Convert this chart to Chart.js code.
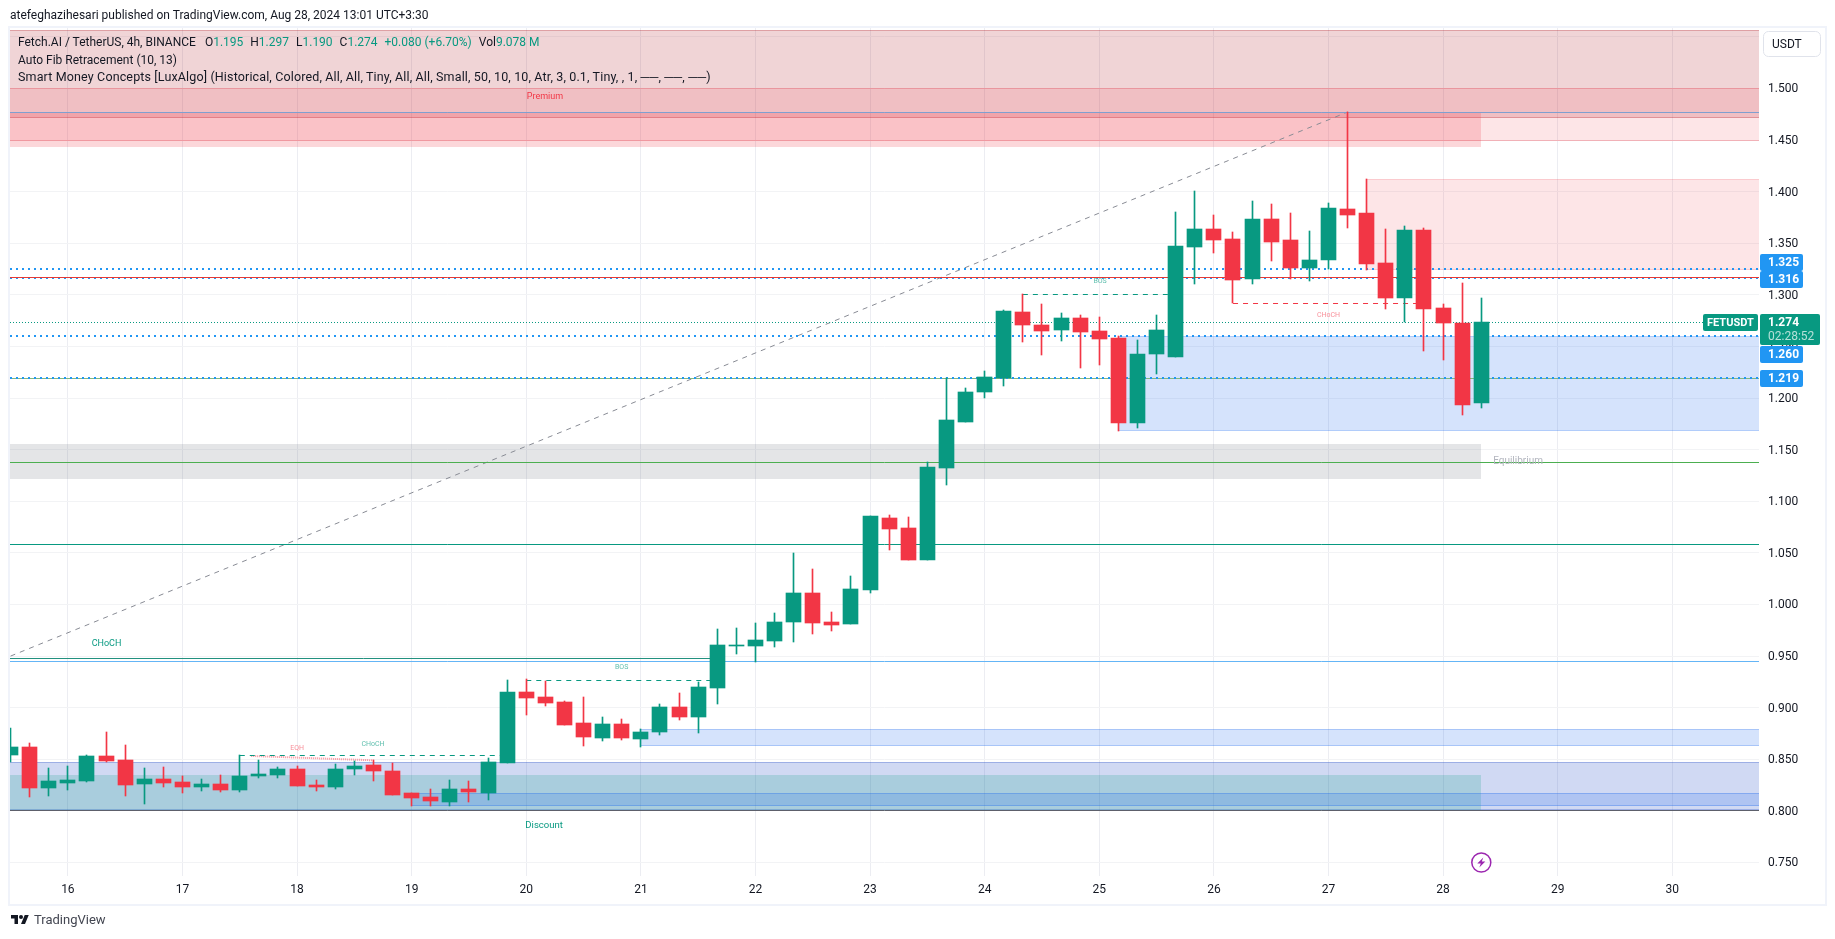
<!DOCTYPE html>
<html>
<head>
<meta charset="utf-8">
<title>FETUSDT</title>
<script src="https://cdn.jsdelivr.net/npm/chart.js@4"></script>
<style>
    html, body { margin: 0; padding: 0; background: #fff; }
    body { width: 1835px; height: 939px; position: relative; overflow: hidden; font-family: Roboto, sans-serif; color: #131722; }
    #frame { position: absolute; left: 8px; top: 26px; width: 1815px; height: 876px; border: 2px solid #f0f3fa; }
    canvas { position: absolute; left: 0; top: 0; }
    .txt { position: absolute; white-space: pre; font-size: 12px; line-height: 16px; }
    .up { color: #089981; }
    .gap { margin-left: 7px; }
    #logo { position: absolute; left: 10px; top: 913px; }
    #brand { left: 34px; top: 912px; font-size: 13px; color: #434651; }
</style>
</head>
<body>
<div id="frame"></div>
<canvas id="chart" width="1835" height="939"></canvas>
<div class="txt" style="left:10px;top:7px">atefeghazihesari published on TradingView.com, Aug 28, 2024 13:01 UTC+3:30</div>
<div class="txt" style="left:18px;top:34px">Fetch.AI / TetherUS, 4h, BINANCE<span class="gap" style="margin-left:9px">O</span><span class="up">1.195</span><span class="gap">H</span><span class="up">1.297</span><span class="gap">L</span><span class="up">1.190</span><span class="gap">C</span><span class="up">1.274</span><span class="gap up">+0.080 (+6.70%)</span><span class="gap">Vol</span><span class="up">9.078 M</span></div>
<div class="txt" style="left:18px;top:52px">Auto Fib Retracement (10, 13)</div>
<div class="txt" style="left:18px;top:69px;font-size:12.5px;letter-spacing:0.14px">Smart Money Concepts [LuxAlgo] (Historical, Colored, All, All, Tiny, All, All, Small, 50, 10, 10, Atr, 3, 0.1, Tiny, , 1, ──, ──, ──)</div>
<svg id="logo" width="20" height="14" viewBox="0 0 36 28"><path fill="#131722" d="M14 22H7V11H0V4h14v18zM28 22h-8l7.5-18h8L28 22z"/><circle cx="20" cy="8" r="4" fill="#131722"/></svg>
<div class="txt" id="brand">TradingView</div>

<script>
// 4h candles, first one opens on the 15th at 12:00
const firstBarDay = 15.5;
const barsPerDay = 6;
const opens = [0.8538, 0.8616, 0.8218, 0.8267, 0.8286, 0.8528, 0.849, 0.8257, 0.8306, 0.8276, 0.8228, 0.8257, 0.8199, 0.8335, 0.8344, 0.8402, 0.8247, 0.8228, 0.8402, 0.8441, 0.8383, 0.817, 0.8131, 0.8083, 0.8209, 0.817, 0.8461, 0.9149, 0.9107, 0.9058, 0.8855, 0.8709, 0.8845, 0.87, 0.8767, 0.901, 0.8913, 0.9194, 0.96, 0.96, 0.9649, 0.9833, 1.0114, 0.9833, 0.9814, 1.0143, 1.0834, 1.0743, 1.0434, 1.1322, 1.1767, 1.2058, 1.2194, 1.2833, 1.2707, 1.2659, 1.2775, 1.2649, 1.2581, 1.1758, 1.2426, 1.2397, 1.3464, 1.3638, 1.3541, 1.3154, 1.3735, 1.3532, 1.326, 1.3338, 1.3832, 1.3793, 1.3309, 1.297, 1.3628, 1.2873, 1.2727, 1.195];
const highs = [0.880, 0.8654, 0.8412, 0.8432, 0.8538, 0.8761, 0.8635, 0.8412, 0.8422, 0.8335, 0.8306, 0.8344, 0.8538, 0.849, 0.8422, 0.8432, 0.8296, 0.8451, 0.848, 0.849, 0.8461, 0.817, 0.8209, 0.8296, 0.8286, 0.8509, 0.9265, 0.9275, 0.9262, 0.9068, 0.9107, 0.8913, 0.8893, 0.8796, 0.9039, 0.9145, 0.9252, 0.9766, 0.9775, 0.9824, 0.992, 1.0502, 1.0347, 0.993, 1.0279, 1.0858, 1.087, 1.085, 1.138, 1.2194, 1.2097, 1.2262, 1.2853, 1.3005, 1.2911, 1.2824, 1.2804, 1.2785, 1.2601, 1.2562, 1.2804, 1.3805, 1.4009, 1.3774, 1.3609, 1.3909, 1.388, 1.3793, 1.3619, 1.389, 1.4772, 1.4123, 1.3638, 1.3667, 1.3648, 1.2911, 1.3115, 1.297];
const lows = [0.8477, 0.8131, 0.8141, 0.8199, 0.8276, 0.847, 0.8141, 0.8063, 0.8228, 0.817, 0.8189, 0.818, 0.818, 0.8315, 0.8315, 0.8238, 0.8189, 0.8209, 0.8344, 0.8286, 0.815, 0.8044, 0.8044, 0.8044, 0.8083, 0.8102, 0.8461, 0.8926, 0.9019, 0.8835, 0.8632, 0.868, 0.869, 0.8622, 0.8738, 0.8884, 0.8758, 0.9039, 0.9523, 0.9439, 0.9591, 0.964, 0.9717, 0.9746, 0.9814, 1.0114, 1.0529, 1.0434, 1.0434, 1.1157, 1.1767, 1.2, 1.2116, 1.2543, 1.2417, 1.2552, 1.2291, 1.232, 1.168, 1.1709, 1.2233, 1.2397, 1.3105, 1.3406, 1.2918, 1.3105, 1.3328, 1.3154, 1.3134, 1.325, 1.3648, 1.3241, 1.2863, 1.2734, 1.2456, 1.2369, 1.1836, 1.190];
const closes = [0.8616, 0.8218, 0.8286, 0.8296, 0.8528, 0.848, 0.8247, 0.8306, 0.8267, 0.8228, 0.8257, 0.8199, 0.8335, 0.8354, 0.8402, 0.8238, 0.8228, 0.8402, 0.8432, 0.8383, 0.815, 0.8121, 0.8092, 0.8209, 0.818, 0.847, 0.9149, 0.909, 0.9048, 0.8835, 0.8719, 0.8845, 0.8709, 0.8767, 0.901, 0.8913, 0.9203, 0.961, 0.961, 0.9659, 0.9833, 1.0114, 0.9824, 0.9804, 1.0153, 1.0858, 1.0733, 1.0434, 1.1331, 1.1787, 1.2058, 1.2203, 1.2843, 1.2707, 1.2649, 1.2775, 1.264, 1.2572, 1.1758, 1.2426, 1.2659, 1.3476, 1.3635, 1.3532, 1.3144, 1.3735, 1.3512, 1.326, 1.3338, 1.3842, 1.3774, 1.3299, 1.297, 1.3628, 1.2863, 1.2727, 1.1933, 1.274];

// axis
const xMin = 15.495;
const xMax = 30.7565;
const yMin = 0.7369;
const yMax = 1.5586;

// zones: from day, to day, top price, bottom price
const zoneFrom = [xMin, xMin, xMin, 27.333, 25.167, 21, xMin, xMin, 19, xMin];
const zoneTo = [xMax, xMax, 28.333, xMax, xMax, xMax, xMax, 28.333, xMax, 28.333];
const zoneTop = [1.5567, 1.5, 1.4772, 1.4123, 1.2602, 0.8793, 0.8477, 0.8344, 0.817, 1.1555];
const zoneBottom = [1.4714, 1.4494, 1.4433, 1.3242, 1.1685, 0.8625, 0.8012, 0.8002, 0.8047, 1.1215];
const zoneFills = ['rgba(178,40,51,0.2)', 'rgba(242,54,69,0.13)', 'rgba(242,54,69,0.2)', 'rgba(242,54,69,0.13)', 'rgba(34,108,239,0.19)', 'rgba(34,108,239,0.19)', 'rgba(40,80,200,0.22)', 'rgba(8,153,129,0.2)', 'rgba(34,108,239,0.19)', 'rgba(120,123,134,0.2)'];
const zoneEdges = ['rgba(178,40,51,0.3)', 'rgba(242,54,69,0.25)', null, 'rgba(242,54,69,0.15)', 'rgba(34,108,239,0.2)', 'rgba(34,108,239,0.25)', 'rgba(40,80,200,0.3)', null, 'rgba(34,108,239,0.3)', null];

// level lines: from day, to day, start price, end price
const lineFrom = [xMin, xMin, xMin, xMin, xMin, xMin, xMin, xMin, xMin, xMin, xMin, xMin, xMin, 17.5, 17.6, 20, 24.333, 26.167, 15.5];
const lineTo = [xMax, xMax, xMax, xMax, 30.268, xMax, xMax, xMax, xMax, xMax, 21.667, xMax, xMax, 19.833, 18.667, 21.667, 25.667, 27.833, 27.167];
const lineStart = [1.4769, 1.325, 1.3168, 1.316, 1.2737, 1.26, 1.2195, 1.2185, 1.1377, 1.0586, 0.9472, 0.9443, 0.8002, 0.8532, 0.8532, 0.9268, 1.3005, 1.2918, 0.95];
const lineEnd = [1.4769, 1.325, 1.3168, 1.316, 1.2737, 1.26, 1.2195, 1.2185, 1.1377, 1.0586, 0.9472, 0.9443, 0.8002, 0.8532, 0.849, 0.9268, 1.3005, 1.2918, 1.4772];
const lineColors = ['#7f9fcf', '#2196f3', '#e53935', '#2196f3', '#089981', '#2196f3', '#2196f3', '#81b87f', '#4caf50', '#089981', '#22917f', '#64b5f6', '#5d606b', '#089981', '#f8909a', '#089981', '#089981', '#f23645', '#888b94'];
const lineWidths = [1, 2, 1, 1, 1, 2, 2, 1, 1, 1, 1, 1, 1, 1, 2, 1, 1, 1, 1];
const lineDashes = [[], [2, 4], [], [2, 4], [1, 2], [2, 4], [2, 4], [], [], [], [], [], [], [5, 5], [1, 1], [5, 5], [5, 5], [5, 5], [5, 5]];

// text marks placed on the chart
const markTexts = ['CHoCH', 'Premium', 'Discount', 'Equilibrium', 'BOS', 'BOS', 'CHoCH', 'CHoCH', 'EQH'];
const markDays = [16.337, 20.163, 20.155, 28.654, 20.832, 25.007, 27.0, 18.662, 18.0];
const markPrices = [0.9617, 1.4915, 0.7854, 1.1386, 0.9388, 1.3128, 1.2798, 0.8641, 0.8603];
const markColors = ['#089981', '#f23645', '#089981', '#b2b5be', '#5fbfae', '#5fbfae', '#f8909a', '#5fbfae', '#f8909a'];
const markSizes = [9, 9, 9.5, 10, 7, 7, 7, 7, 7];

// price tags in the axis
const tagTexts = ['1.325', '1.316', '1.260', '1.219'];
const tagPrices = [1.325, 1.316, 1.26, 1.219];
const tagNudges = [-7.5, 0.5, 17.5, 0];
const lastPrice = 1.274;
const lastLabel = '1.274';
const countdown = '02:28:52';
const tickerName = 'FETUSDT';
const axisUnit = 'USDT';

const barDays = opens.map((_, i) => firstBarDay + i / barsPerDay);
const wickData = barDays.map((d, i) => ({ x: d, y: [lows[i], highs[i]] }));
const bodyData = barDays.map((d, i) => ({ x: d, y: [opens[i], closes[i]] }));
const barColors = opens.map((o, i) => closes[i] >= o ? '#089981' : '#f23645');

const lineSets = lineFrom.map((from, i) => ({
    type: 'line',
    data: [{ x: from, y: lineStart[i] }, { x: lineTo[i], y: lineEnd[i] }],
    borderColor: lineColors[i],
    borderWidth: lineWidths[i],
    borderDash: lineDashes[i],
    pointRadius: 0,
    tension: 0,
    order: 3
}));

// keep bars and flat lines on whole pixels, like the original canvas
const snapPlugin = {
    id: 'snap',
    afterDatasetsUpdate(chart) {
        chart.data.datasets.forEach((ds, i) => {
            const els = chart.getDatasetMeta(i).data;
            if (ds.type === 'line') {
                if (els[0].y !== els[1].y) return;
                const y = ds.borderWidth === 2 ? Math.round(els[0].y) : Math.floor(els[0].y) + 0.5;
                els.forEach(el => { el.y = y; });
            } else {
                els.forEach(el => {
                    el.x = Math.floor(el.x) + 0.5;
                    el.y = Math.round(el.y);
                    el.base = Math.round(el.base);
                    if (el.base === el.y) el.base = el.y + 1;
                });
            }
        });
    }
};

const zonePlugin = {
    id: 'zones',
    beforeDatasetsDraw(chart) {
        const { ctx, chartArea, scales } = chart;
        ctx.save();
        ctx.beginPath();
        ctx.rect(chartArea.left, chartArea.top, chartArea.width, chartArea.height);
        ctx.clip();
        zoneFrom.forEach((from, i) => {
            const left = Math.round(scales.x.getPixelForValue(from));
            const right = Math.round(scales.x.getPixelForValue(zoneTo[i]));
            const top = Math.round(scales.y.getPixelForValue(zoneTop[i]));
            const bottom = Math.round(scales.y.getPixelForValue(zoneBottom[i]));
            ctx.fillStyle = zoneFills[i];
            ctx.fillRect(left, top, right - left, bottom - top);
            if (zoneEdges[i]) {
                ctx.fillStyle = zoneEdges[i];
                ctx.fillRect(left, top, right - left, 1);
                ctx.fillRect(left, bottom - 1, right - left, 1);
            }
        });
        ctx.restore();
    }
};

function drawTag(ctx, x, y, w, h, color) {
    ctx.fillStyle = color;
    ctx.beginPath();
    ctx.roundRect(x, y, w, h, 2);
    ctx.fill();
}

const overlayPlugin = {
    id: 'overlay',
    afterDraw(chart) {
        const { ctx, scales } = chart;
        ctx.save();
        ctx.textBaseline = 'middle';
        markTexts.forEach((text, i) => {
            ctx.font = markSizes[i] + 'px Roboto';
            ctx.fillStyle = markColors[i];
            ctx.textAlign = 'center';
            ctx.fillText(text, scales.x.getPixelForValue(markDays[i]), scales.y.getPixelForValue(markPrices[i]));
        });

        // blue tags
        ctx.textAlign = 'left';
        ctx.font = 'bold 12px Roboto';
        tagTexts.forEach((text, i) => {
            const cy = Math.round(scales.y.getPixelForValue(tagPrices[i]) + tagNudges[i]);
            drawTag(ctx, 1760, cy - 8, 43, 17, '#2196f3');
            ctx.fillStyle = '#fff';
            ctx.fillText(text, 1768, cy + 1);
        });

        // last price tag with countdown
        const lastY = Math.round(scales.y.getPixelForValue(lastPrice));
        drawTag(ctx, 1760, lastY - 8, 60, 31, '#089981');
        drawTag(ctx, 1703, lastY - 8, 55, 17, '#089981');
        ctx.fillStyle = '#fff';
        ctx.fillText(lastLabel, 1768, lastY + 1);
        ctx.font = 'bold 11px Roboto';
        ctx.fillText(tickerName, 1707, lastY + 1);
        ctx.font = '12px Roboto';
        ctx.fillStyle = '#b5e0d8';
        ctx.fillText(countdown, 1768, lastY + 15);

        // unit button
        ctx.strokeStyle = '#e0e3eb';
        ctx.lineWidth = 1;
        ctx.beginPath();
        ctx.roundRect(1763.5, 31.5, 57, 25, 5);
        ctx.stroke();
        ctx.font = '12px Roboto';
        ctx.fillStyle = '#131722';
        ctx.fillText(axisUnit, 1772, 44.5);

        // lightning badge under the last bar
        const bx = scales.x.getPixelForValue(barDays[barDays.length - 1]);
        const by = scales.y.getPixelForValue(0.75);
        ctx.strokeStyle = '#9c27b0';
        ctx.fillStyle = '#9c27b0';
        ctx.lineWidth = 1.5;
        ctx.beginPath();
        ctx.arc(bx, by, 9.5, 0, Math.PI * 2);
        ctx.stroke();
        ctx.beginPath();
        ctx.moveTo(bx + 2, by - 5);
        ctx.lineTo(bx - 4, by + 1);
        ctx.lineTo(bx - 0.5, by + 1);
        ctx.lineTo(bx - 2, by + 5);
        ctx.lineTo(bx + 4, by - 1);
        ctx.lineTo(bx + 0.5, by - 1);
        ctx.closePath();
        ctx.fill();
        ctx.restore();
    }
};

new Chart(document.getElementById('chart').getContext('2d'), {
    type: 'bar',
    data: {
        datasets: [
            { data: bodyData, backgroundColor: barColors, barThickness: 15, grouped: false, order: 1 },
            { data: wickData, backgroundColor: barColors, barThickness: 1, grouped: false, order: 2 },
            ...lineSets
        ]
    },
    plugins: [snapPlugin, zonePlugin, overlayPlugin],
    options: {
        responsive: false,
        animation: false,
        events: [],
        layout: { padding: { left: 10, right: 10, top: 28, bottom: 36 } },
        plugins: { legend: { display: false }, tooltip: { enabled: false } },
        scales: {
            x: {
                type: 'linear',
                offset: false,
                min: xMin,
                max: xMax,
                afterFit: s => { s.height = 27; },
                grid: { color: '#ecedf2', drawTicks: false, offset: false },
                border: { display: false },
                ticks: {
                    stepSize: 1,
                    includeBounds: false,
                    autoSkip: false,
                    maxRotation: 0,
                    padding: 7,
                    color: '#131722',
                    font: { family: 'Roboto', size: 12 },
                    callback: v => String(v)
                }
            },
            y: {
                type: 'linear',
                position: 'right',
                min: yMin,
                max: yMax,
                afterFit: s => { s.width = 66; },
                grid: { color: '#f2f3f5', drawTicks: false },
                border: { display: false },
                ticks: {
                    stepSize: 0.05,
                    includeBounds: false,
                    autoSkip: false,
                    padding: 9,
                    labelOffset: 1,
                    color: '#131722',
                    font: { family: 'Roboto', size: 12 },
                    // the unit button covers the top tick
                    callback: v => v > 1.51 ? '' : v.toFixed(3)
                }
            }
        }
    }
});
</script>
</body>
</html>
